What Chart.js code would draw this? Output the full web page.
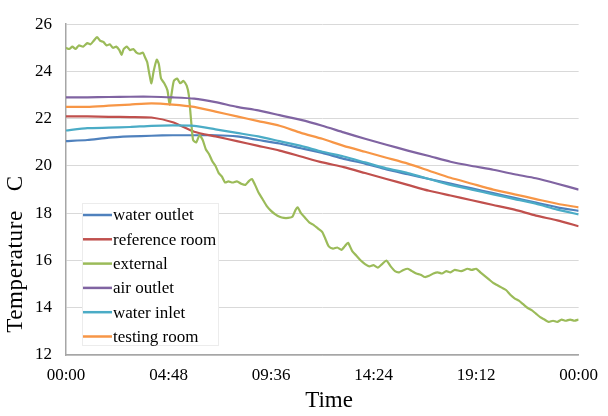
<!DOCTYPE html>
<html>
<head>
<meta charset="utf-8">
<script src="https://cdn.jsdelivr.net/npm/chart.js@4/dist/chart.umd.min.js"></script>
<style>
  html, body { margin: 0; padding: 0; background: #ffffff; }
  #wrap { width: 608px; height: 416px; }
</style>
</head>
<body>
<div id="wrap"><canvas id="c" width="608" height="416"></canvas></div>
<script>
// Time axis (hours since midnight) and its labels
const tickHours = [0, 4.8, 9.6, 14.4, 19.2, 24];
const tickLabels = ['00:00', '04:48', '09:36', '14:24', '19:12', '00:00'];

// Hourly readings for the indoor / loop sensors
const hours = [0,1,2,3,4,5,6,7,8,9,10,11,12,13,14,15,16,17,18,19,20,21,22,23,24];
const waterOutlet   = [21.05,21.1,21.2,21.25,21.28,21.3,21.3,21.3,21.25,21.1,20.95,20.75,20.55,20.3,20.1,19.85,19.65,19.45,19.25,19.05,18.85,18.65,18.45,18.25,18.1];
const referenceRoom = [22.1,22.1,22.08,22.07,22.05,21.85,21.45,21.25,21.05,20.85,20.65,20.4,20.15,19.95,19.7,19.45,19.2,18.95,18.75,18.55,18.35,18.15,17.9,17.7,17.45];
const airOutlet     = [22.9,22.9,22.92,22.93,22.93,22.9,22.85,22.7,22.5,22.35,22.15,21.95,21.7,21.42,21.15,20.9,20.65,20.42,20.18,20.0,19.84,19.65,19.48,19.25,19.0];
const waterInlet    = [21.5,21.6,21.62,21.65,21.7,21.72,21.7,21.55,21.4,21.25,21.05,20.85,20.6,20.4,20.15,19.9,19.7,19.45,19.2,19.0,18.8,18.6,18.4,18.15,17.95];
const testingRoom   = [22.5,22.5,22.55,22.6,22.65,22.6,22.5,22.3,22.1,21.9,21.7,21.4,21.15,20.85,20.6,20.35,20.1,19.8,19.5,19.25,19.0,18.8,18.6,18.4,18.25];

// Outdoor sensor, sampled more densely
const externalHours = [0,0.15,0.3,0.45,0.6,0.8,1.0,1.15,1.3,1.45,1.6,1.75,1.9,2.05,2.2,2.35,2.5,2.6,2.7,2.85,3.0,3.15,3.3,3.45,3.6,3.7,3.8,3.9,4.0,4.1,4.25,4.35,4.45,4.6,4.75,4.85,4.95,5.05,5.2,5.35,5.5,5.65,5.75,5.85,5.95,6.1,6.25,6.4,6.55,6.7,6.85,7.0,7.15,7.3,7.45,7.6,7.8,8.0,8.2,8.4,8.55,8.7,8.85,9.0,9.2,9.4,9.6,9.8,10.0,10.2,10.4,10.6,10.75,10.85,11.0,11.2,11.4,11.6,11.8,12.0,12.15,12.3,12.5,12.7,12.9,13.05,13.2,13.4,13.6,13.8,14.0,14.2,14.4,14.6,14.8,15.0,15.2,15.4,15.6,15.8,16.0,16.2,16.4,16.6,16.8,17.0,17.2,17.4,17.6,17.8,18.0,18.2,18.5,18.8,19.0,19.2,19.4,19.6,19.8,20.0,20.2,20.4,20.6,20.8,21.0,21.2,21.4,21.6,21.8,22.0,22.2,22.4,22.6,22.8,23.0,23.2,23.4,23.6,23.8,24.0];
const externalTemp  = [25.0,24.95,25.05,24.95,25.1,25.05,25.2,25.15,25.3,25.45,25.3,25.25,25.1,25.15,25.0,25.05,24.9,24.7,24.95,25.05,24.9,24.95,24.8,24.75,24.8,24.6,24.4,23.9,23.5,24.0,24.5,24.3,23.7,23.5,23.2,22.6,23.1,23.6,23.7,23.5,23.6,23.4,23.0,22.0,21.1,21.0,21.3,21.1,20.7,20.5,20.2,20.0,19.7,19.55,19.3,19.35,19.3,19.35,19.25,19.2,19.35,19.45,19.2,18.9,18.6,18.3,18.1,17.95,17.85,17.8,17.8,17.85,18.15,18.25,18.0,17.8,17.6,17.5,17.35,17.2,16.9,16.6,16.5,16.55,16.45,16.6,16.75,16.4,16.2,16.0,15.85,15.75,15.8,15.7,15.85,16.0,15.75,15.55,15.5,15.6,15.65,15.55,15.45,15.4,15.3,15.35,15.45,15.5,15.45,15.55,15.5,15.6,15.55,15.65,15.6,15.65,15.5,15.35,15.2,15.05,14.95,14.85,14.75,14.55,14.4,14.3,14.15,14.0,13.9,13.75,13.6,13.5,13.4,13.45,13.4,13.5,13.45,13.5,13.45,13.5];

const seriesNames  = ['water outlet', 'reference room', 'external', 'air outlet', 'water inlet', 'testing room'];
const seriesColors = ['#4F81BD', '#C0504D', '#9BBB59', '#8064A2', '#4BACC6', '#F79646'];

const pts = (xs, ys) => xs.map((h, i) => ({ x: h, y: ys[i] }));
const seriesData = [
  pts(hours, waterOutlet),
  pts(hours, referenceRoom),
  pts(externalHours, externalTemp),
  pts(hours, airOutlet),
  pts(hours, waterInlet),
  pts(hours, testingRoom)
];

const SERIF = '"Liberation Serif", "Times New Roman", serif';

// Legend box in the lower-left corner of the plot, plus the axis titles
const decorations = {
  id: 'decorations',
  afterDraw(chart) {
    const ctx = chart.ctx;
    ctx.save();
    // legend
    const bx = 82, by = 203, bw = 136, bh = 142;
    ctx.fillStyle = '#ffffff';
    ctx.fillRect(bx, by, bw, bh);
    ctx.strokeStyle = '#ececec';
    ctx.lineWidth = 1;
    ctx.strokeRect(bx + 0.5, by + 0.5, bw, bh);
    ctx.font = '17px ' + SERIF;
    ctx.textBaseline = 'middle';
    ctx.textAlign = 'left';
    chart.data.datasets.forEach((ds, i) => {
      const y = 215 + i * 24.3;
      ctx.strokeStyle = ds.borderColor;
      ctx.lineWidth = 2.5;
      ctx.beginPath();
      ctx.moveTo(83, y);
      ctx.lineTo(112, y);
      ctx.stroke();
      ctx.fillStyle = '#000000';
      ctx.fillText(ds.label, 113, y + 1);
    });
    // axis titles
    ctx.fillStyle = '#000000';
    ctx.font = '23px ' + SERIF;
    ctx.textAlign = 'center';
    ctx.textBaseline = 'middle';
    ctx.fillText('Time', 329, 401);
    ctx.translate(16, 254);
    ctx.rotate(-Math.PI / 2);
    if ('letterSpacing' in ctx) ctx.letterSpacing = '0.6px';
    ctx.fillText('Temperature   C', 0, 0);
    ctx.restore();
  }
};

new Chart(document.getElementById('c'), {
  type: 'line',
  data: {
    datasets: seriesNames.map((name, i) => ({
      label: name,
      data: seriesData[i],
      borderColor: seriesColors[i],
      backgroundColor: seriesColors[i],
      borderWidth: 2.2,
      pointRadius: 0,
      tension: 0.2,
      fill: false,
      order: seriesNames.length - i
    }))
  },
  options: {
    responsive: false,
    animation: false,
    devicePixelRatio: 1,
    layout: { padding: { top: 19, right: 20, left: 0, bottom: 0 } },
    plugins: { legend: { display: false }, tooltip: { enabled: false } },
    scales: {
      x: {
        type: 'linear',
        min: 0,
        max: 24,
        afterBuildTicks: (scale) => { scale.ticks = tickHours.map(v => ({ value: v })); },
        afterFit: (scale) => { scale.height = 61; },
        ticks: {
          autoSkip: false,
          maxRotation: 0,
          padding: 10,
          color: '#000000',
          font: { family: SERIF, size: 17 },
          callback: (v, i) => tickLabels[i]
        },
        grid: { display: false, drawTicks: false },
        border: { display: true, color: '#a6a6a6', width: 1.5 }
      },
      y: {
        min: 12,
        max: 26,
        afterFit: (scale) => { scale.width = 66; },
        ticks: {
          stepSize: 2,
          padding: 14,
          color: '#000000',
          font: { family: SERIF, size: 17 }
        },
        grid: { color: '#d9d9d9', lineWidth: 1, drawTicks: false },
        border: { display: true, color: '#a6a6a6', width: 1.5 }
      }
    }
  },
  plugins: [decorations]
});
</script>
</body>
</html>
